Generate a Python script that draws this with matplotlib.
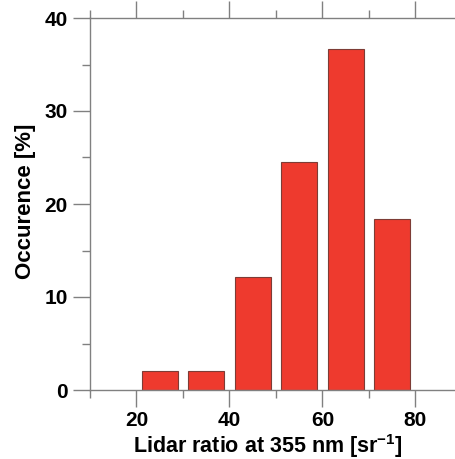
import matplotlib
matplotlib.use("Agg")
import matplotlib.pyplot as plt
from matplotlib.ticker import MultipleLocator

plt.rcParams["font.family"] = ["Liberation Sans", "DejaVu Sans"]
plt.rcParams["font.weight"] = "bold"
plt.rcParams["mathtext.fontset"] = "custom"
plt.rcParams["mathtext.rm"] = "Liberation Sans:bold"
plt.rcParams["mathtext.default"] = "rm"

# Lidar ratio bins (bin centres, sr^-1) and occurrence in percent
bin_centers = [25, 35, 45, 55, 65, 75]
occurrence = [2.0, 2.0, 12.2, 24.5, 36.7, 18.4]

x_major_ticks = [20, 40, 60, 80]
y_major_ticks = [0, 10, 20, 30, 40]

W, H = 456, 459
fig = plt.figure(figsize=(W / 100, H / 100), dpi=100)
# axes frame runs past the right edge of the figure
ax = fig.add_axes([90 / W, 69 / H, 372 / W, 372 / H])

ax.bar(bin_centers, occurrence, width=7.8, color="#ee3a2e",
       edgecolor="#7d3c36", linewidth=0.8, zorder=2)

ax.set_xlim(10, 90)
ax.set_ylim(0, 40)
ax.set_xticks(x_major_ticks)
ax.set_yticks(y_major_ticks)
ax.xaxis.set_minor_locator(MultipleLocator(10))
ax.yaxis.set_minor_locator(MultipleLocator(5))

axis_gray = "#808080"
for side in ["left", "bottom", "top"]:
    ax.spines[side].set_color(axis_gray)
    ax.spines[side].set_linewidth(1.0)
ax.spines["right"].set_visible(False)

ax.tick_params(which="both", direction="out", color=axis_gray, width=1.0,
               top=True, labeltop=False, right=False)
ax.tick_params(which="major", length=12, labelsize=15)
ax.tick_params(axis="x", which="major", pad=3)
ax.tick_params(axis="y", which="major", pad=4)
ax.tick_params(which="minor", length=6)
for lab in ax.get_xticklabels() + ax.get_yticklabels():
    lab.set_fontweight("bold")

ax.set_xlabel("Lidar ratio at 355 nm [sr$^{-1}$]", fontsize=15.5, fontweight="bold")
ax.set_ylabel("Occurence [%]", fontsize=16, fontweight="bold")
ax.xaxis.set_label_coords(0.478, -0.112)
ax.yaxis.set_label_coords(-0.145, 0.508)

fig.savefig("out.png", dpi=100)
